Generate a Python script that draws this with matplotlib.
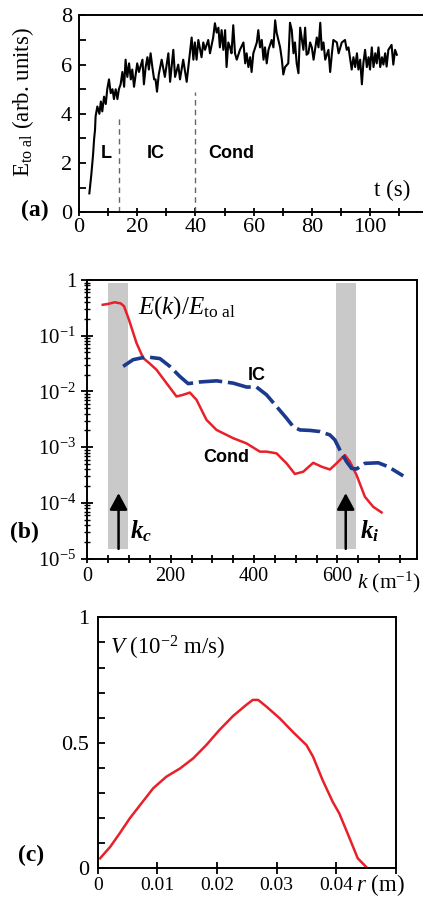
import matplotlib
matplotlib.use('Agg')
import math
import matplotlib.pyplot as plt
from matplotlib.ticker import MultipleLocator, LogLocator, NullFormatter, FuncFormatter, FixedLocator

plt.rcParams['font.family'] = ['Liberation Serif', 'DejaVu Serif']
plt.rcParams['mathtext.fontset'] = 'custom'
plt.rcParams['mathtext.rm'] = 'Liberation Serif'
plt.rcParams['mathtext.it'] = 'Liberation Serif:italic'
plt.rcParams['mathtext.bf'] = 'Liberation Serif:bold:italic'

# ---------------- data: panel (a) ----------------
t_a = [3.55, 4.2, 4.8, 5.2, 5.5, 5.7, 6.3, 7.0, 7.5, 8.0, 8.6, 9.2, 9.7, 10.3, 10.9,
       11.5, 12.0, 12.6, 13.2, 13.7, 14.3, 14.9, 15.5, 16.0, 16.6, 17.2, 17.8, 18.3,
       18.9, 20.0, 20.6, 21.8, 22.3, 22.9, 23.5, 24.0, 24.6, 25.2, 25.8, 26.3, 26.8,
       27.4, 28.4, 29.5, 30.7, 31.3, 32.4, 33.0, 34.1, 34.7, 35.8, 37.0, 38.1, 38.7,
       39.3, 39.8, 40.4, 41.0, 42.1, 42.7, 43.3, 44.4, 45.0, 46.1, 46.7, 47.3, 47.9,
       48.4, 49.0, 49.6, 50.2, 50.7, 51.3, 51.9, 52.4, 53.0, 53.6, 54.2, 55.3, 56.5,
       57.1, 57.6, 58.2, 58.8, 59.3, 59.9, 61.1, 61.6, 62.2, 62.8, 63.4, 63.9, 64.5,
       65.1, 66.2, 66.8, 67.4, 67.9, 69.1, 69.7, 70.2, 70.8, 71.9, 72.5, 73.1, 73.7,
       74.2, 74.8, 75.4, 76.0, 77.1, 77.7, 78.2, 78.8, 79.4, 80.0, 80.6, 81.7, 82.3,
       82.9, 83.4, 84.0, 84.6, 85.7, 86.3, 86.9, 87.4, 88.6, 89.2, 90.3, 91.4, 92.0,
       92.6, 93.2, 93.7, 94.3, 94.9, 95.5, 96.0, 96.6, 97.2, 97.7, 98.3, 98.9, 99.5,
       100.0, 100.6, 101.2, 101.8, 102.3, 102.9, 103.5, 104.1, 104.6, 105.2, 105.7,
       106.3, 107.4, 108.0, 108.6, 109.2]
E_a = [0.77, 1.5, 2.3, 3.0, 3.35, 3.9, 4.3, 4.0, 4.5, 4.1, 4.7, 4.4, 5.0, 5.4, 4.84,
       5.0, 4.6, 5.0, 4.6, 5.0, 5.2, 5.7, 5.1, 6.2, 5.5, 6.05, 5.4, 5.8,
       5.1, 6.05, 5.7, 6.2, 5.2, 5.9, 6.3, 5.8, 6.46, 5.9, 5.4, 5.4, 4.9,
       5.6, 6.2, 5.5, 6.46, 5.3, 6.6, 5.5, 6.0, 5.4, 6.2, 5.3, 6.46, 7.1,
       6.2, 6.9, 6.2, 7.0, 6.3, 6.9, 6.6, 7.0, 6.46, 7.1, 7.68, 7.3, 7.5,
       6.7, 7.4, 6.6, 7.4, 5.9, 6.9, 6.7, 6.46, 7.6, 6.46, 6.2, 6.6, 6.9,
       6.05, 6.46, 5.9, 6.3, 5.7, 6.46, 6.9, 7.4, 6.7, 7.0, 6.2, 6.7, 6.05,
       6.6, 7.0, 6.7, 7.8, 7.3, 6.7, 6.2, 5.6, 5.9, 6.05, 7.7, 7.4, 6.46,
       6.9, 6.05, 5.65, 7.5, 6.6, 7.5, 6.4, 6.46, 6.9, 6.7, 6.2, 7.1, 6.7,
       7.7, 6.6, 6.9, 6.2, 6.6, 5.7, 6.46, 7.0, 6.9, 6.46, 6.9, 7.0, 6.6,
       6.7, 6.2, 5.8, 6.3, 5.9, 6.46, 5.8, 6.2, 5.2, 6.05, 6.6, 5.9, 6.3,
       5.8, 6.7, 5.9, 6.46, 6.05, 6.7, 5.9, 6.3, 6.0, 6.46, 5.92,
       6.6, 6.8, 6.0, 6.6, 6.4]
phase_t = [13.7, 40.0]
phase_top = [3.95, 4.9]
phase_names = ['L', 'IC', 'Cond']
phase_label_t = [9.3, 26.5, 52.2]

# ---------------- data: panel (b) ----------------
k_cond = [37, 50, 66, 80, 88, 100, 118, 134, 150, 166, 190, 214, 230, 246, 262, 286,
          310, 350, 382, 414, 430, 454, 478, 498, 518, 542, 562, 582, 598, 618, 630,
          646, 666, 686, 706]
E_cond = [0.359, 0.372, 0.398, 0.380, 0.339, 0.193, 0.0741, 0.0398, 0.0316, 0.0245,
          0.0141, 0.00813, 0.00871, 0.00955, 0.00708, 0.00309, 0.00204, 0.00145,
          0.00117, 0.000832, 0.000832, 0.000776, 0.000513, 0.000331, 0.000363,
          0.000525, 0.000447, 0.000398, 0.000513, 0.000724, 0.000550, 0.000316,
          0.000129, 0.0000851, 0.0000676]
k_ic = [86, 110, 142, 174, 198, 222, 242, 270, 310, 350, 382, 406, 430, 454, 478, 494,
        510, 534, 558, 582, 594, 606, 622, 634, 646, 666, 698, 722, 758]
E_ic = [0.0282, 0.0372, 0.0417, 0.0389, 0.0282, 0.0186, 0.0138, 0.0148, 0.0155, 0.0141,
        0.0120, 0.0120, 0.00871, 0.00537, 0.00331, 0.00234, 0.00204, 0.00200, 0.00191,
        0.00166, 0.00135, 0.000891, 0.000550, 0.000417, 0.000407, 0.000513, 0.000525,
        0.000447, 0.000305]
band_lo = [50, 597]
band_hi = [98, 645]
band_bottom = 1.5e-5
band_top = 0.87
arrow_k = [75, 620]
arrow_from = 1.5e-5
arrow_to = 1.5e-4

# ---------------- data: panel (c) ----------------
r_c = [0.0004, 0.0021, 0.0037, 0.0054, 0.0071, 0.0093, 0.0115, 0.0138, 0.016, 0.0182,
       0.0204, 0.0227, 0.0249, 0.026, 0.0269, 0.0283, 0.0305, 0.0327, 0.035, 0.0361,
       0.0377, 0.0394, 0.0405, 0.0419, 0.0436, 0.045]
V_c = [0.04, 0.086, 0.14, 0.2, 0.252, 0.319, 0.365, 0.398, 0.438, 0.491, 0.551, 0.607,
       0.651, 0.671, 0.671, 0.644, 0.598, 0.544, 0.491, 0.445, 0.352, 0.265, 0.219,
       0.139, 0.04, 0.006]

RED = '#e8202a'
BLUE = '#1b3a8e'
GREY = '#c9c9c9'
SANS = 'Liberation Sans'

fig = plt.figure(figsize=(4.23, 9.09), dpi=100)

# ================= panel (a) =================
axA = fig.add_axes([0.1868, 0.7664, 0.8132, 0.2167])
axA.plot(t_a, E_a, color='black', lw=1.5)
axA.vlines(phase_t, 0, phase_top, colors='#666666', linestyles=(0, (4, 3)), lw=1.0)
for name, tt in zip(phase_names, phase_label_t):
    axA.text(tt, 2.4, name, family=SANS, weight='bold', fontsize=13, ha='center', va='center')
axA.set_xlim(0, 118.2)
axA.set_ylim(0, 8)
axA.spines['right'].set_visible(False)
for s in ['left', 'bottom', 'top']:
    axA.spines[s].set_linewidth(1.4)
axA.xaxis.set_major_locator(MultipleLocator(20))
axA.xaxis.set_minor_locator(MultipleLocator(10))
axA.yaxis.set_major_locator(MultipleLocator(2))
axA.yaxis.set_minor_locator(MultipleLocator(1))
axA.tick_params(axis='x', which='both', direction='inout', length=6, width=1.3, labelsize=16, pad=1)
axA.tick_params(axis='y', which='both', direction='in', length=5, width=1.3, labelsize=16, pad=5)
axA.set_ylabel(r'E$_{\mathrm{to\ al}}$ (arb. units)', fontsize=16.5)
axA.yaxis.set_label_coords(-0.125, 0.56)
axA.text(107.5, 0.45, 't (s)', fontsize=16.5, ha='center', va='bottom')
fig.text(0.083, 0.768, '(a)', fontsize=17, weight='bold', ha='center', va='center')

# ================= panel (b) =================
axB = fig.add_axes([0.2064, 0.3854, 0.7794, 0.3066])
axB.set_yscale('log')
for lo, hi in zip(band_lo, band_hi):
    axB.fill_between([lo, hi], band_bottom, band_top, color=GREY, lw=0, zorder=1)
axB.plot(k_cond, E_cond, color=RED, lw=1.8, zorder=3)
axB.plot(k_ic, E_ic, color=BLUE, lw=2.6, dashes=(6.5, 1.6), zorder=3)
for kk in arrow_k:
    axB.annotate('', xy=(kk, arrow_to), xytext=(kk, arrow_from),
                 arrowprops=dict(arrowstyle='-|>,head_width=0.27,head_length=0.5',
                                 color='black', lw=1.8, mutation_scale=20,
                                 shrinkA=0, shrinkB=0), zorder=4)
axB.set_xlim(0, 791)
axB.set_ylim(1e-5, 1)
for s in axB.spines.values():
    s.set_linewidth(1.4)
axB.xaxis.set_major_locator(FixedLocator([0, 200, 400, 600]))
axB.xaxis.set_minor_locator(MultipleLocator(50))
axB.yaxis.set_major_locator(LogLocator(base=10, numticks=10))
axB.yaxis.set_minor_locator(LogLocator(base=10, subs=range(2, 10), numticks=10))
axB.yaxis.set_minor_formatter(NullFormatter())


def logfmt(v, pos):
    if abs(v - 1) < 1e-9:
        return '1'
    return r'$10^{%d}$' % int(round(math.log10(v)))


axB.yaxis.set_major_formatter(FuncFormatter(logfmt))
axB.tick_params(axis='x', which='both', direction='inout', length=6, width=1.3, labelsize=14.5, pad=3)
axB.tick_params(axis='y', which='major', direction='inout', length=8, width=1.3, labelsize=15, pad=4)
axB.tick_params(axis='y', which='minor', direction='inout', length=5, width=1.0)
axB.text(122, 0.25, r'$E(k)/E_{\mathrm{to\ al}}$', fontsize=18, va='baseline')
axB.text(407, 0.019, 'IC', family=SANS, weight='bold', fontsize=13, ha='center', va='center')
axB.text(333, 6.5e-4, 'Cond', family=SANS, weight='bold', fontsize=13, ha='center', va='center')
axB.text(102, 2.3e-5, r'$\mathbf{k_c}$', fontsize=18, va='baseline')
axB.text(655, 2.3e-5, r'$\mathbf{k_i}$', fontsize=18, va='baseline')
fig.text(0.843, 0.3597, r'$k$ (m$^{-1}$)', fontsize=15.5, ha='left', va='center')
fig.text(0.057, 0.4147, '(b)', fontsize=17, weight='bold', ha='center', va='center')

# ================= panel (c) =================
axC = fig.add_axes([0.231, 0.0447, 0.705, 0.2762])
axC.plot(r_c, V_c, color=RED, lw=1.8)
axC.set_xlim(0, 0.05)
axC.set_ylim(0, 1)
for s in axC.spines.values():
    s.set_linewidth(1.4)
axC.xaxis.set_major_locator(MultipleLocator(0.01))
axC.yaxis.set_major_locator(MultipleLocator(0.5))
axC.yaxis.set_minor_locator(MultipleLocator(0.1))


def rfmt(v, pos):
    if v > 0.045:
        return ''
    if abs(v) < 1e-9:
        return '0'
    return '%.2f' % v


def vfmt(v, pos):
    if abs(v) < 1e-9:
        return '0'
    if abs(v - 1) < 1e-9:
        return '1'
    return '%.1f' % v


axC.xaxis.set_major_formatter(FuncFormatter(rfmt))
axC.yaxis.set_major_formatter(FuncFormatter(vfmt))
axC.tick_params(axis='x', which='both', direction='inout', length=8, width=1.3, labelsize=14, pad=2)
axC.tick_params(axis='y', which='both', direction='in', length=5, width=1.3, labelsize=16, pad=6)
axC.text(0.0021, 0.85, r'$V$ (10$^{-2}$ m/s)', fontsize=16.5, va='baseline')
fig.text(0.8416, 0.0264, r'$r$ (m)', fontsize=16.5, ha='left', va='center')
fig.text(0.073, 0.0594, '(c)', fontsize=17, weight='bold', ha='center', va='center')

fig.savefig('out.png', dpi=100)
